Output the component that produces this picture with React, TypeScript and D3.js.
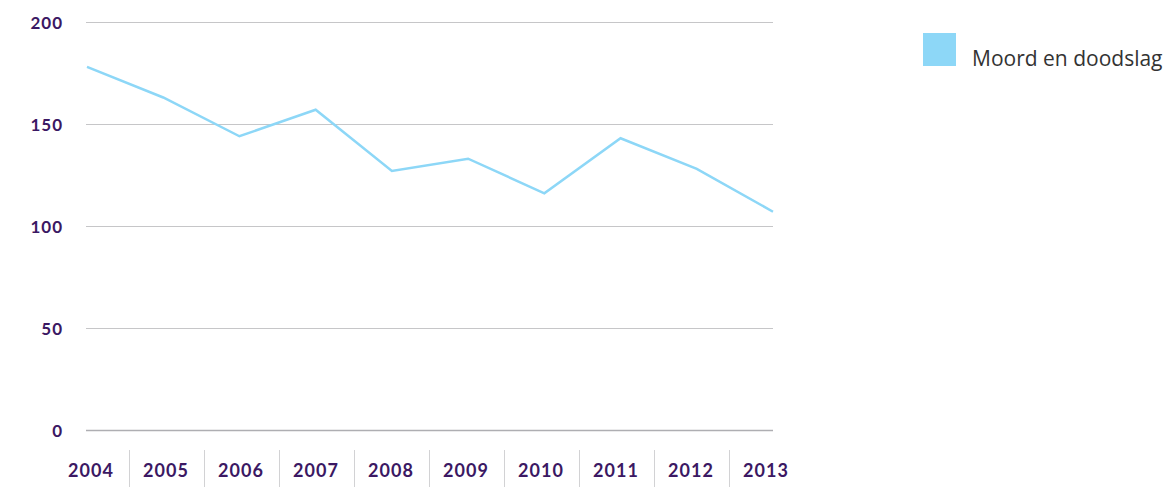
import React, { useEffect, useRef } from "react";
import * as d3 from "d3";

const years = ["2004", "2005", "2006", "2007", "2008", "2009", "2010", "2011", "2012", "2013"];
const moordValues = [178, 163, 144, 157, 127, 133, 116, 143, 128, 107];
const yTicks = [0, 50, 100, 150, 200];
const seriesName = "Moord en doodslag";

const W = 1166;
const H = 487;
const lineColor = "#8dd7f7";
const purple = "#3b1863";

const App = () => {
  const ref = useRef<SVGSVGElement>(null);

  useEffect(() => {
    const svg = d3.select(ref.current);
    svg.selectAll("*").remove();

    const y = d3.scaleLinear().domain([0, 200]).range([430, 22]);
    // line points sit on the gridline span
    const xLine = d3.scalePoint<string>().domain(years).range([87, 773]);
    // labels and separators live in bands below the axis
    const xBand = d3.scaleBand<string>().domain(years).range([53.5, 803.5]);

    // gridlines
    svg
      .append("g")
      .selectAll("line")
      .data(yTicks)
      .join("line")
      .attr("x1", 86)
      .attr("x2", 773)
      .attr("y1", (d) => Math.round(y(d)) + 0.5)
      .attr("y2", (d) => Math.round(y(d)) + 0.5)
      .attr("stroke", (d) => (d === 0 ? "#aeaeb2" : "#c6c6c8"))
      .attr("stroke-width", (d) => (d === 0 ? 1.5 : 1));

    // y labels
    svg
      .append("g")
      .attr("font-family", "Lato, 'Open Sans', sans-serif")
      .attr("font-weight", "bold")
      .attr("font-size", 17)
      .attr("letter-spacing", 1)
      .attr("fill", purple)
      .attr("text-anchor", "end")
      .selectAll("text")
      .data(yTicks)
      .join("text")
      .attr("x", 63)
      .attr("y", (d) => y(d) + 7)
      .text((d) => d);

    // band separators
    svg
      .append("g")
      .selectAll("line")
      .data(years.slice(1))
      .join("line")
      .attr("x1", (d) => Math.round(xBand(d)!) + 0.5)
      .attr("x2", (d) => Math.round(xBand(d)!) + 0.5)
      .attr("y1", 450)
      .attr("y2", H)
      .attr("stroke", "#d2d2d4")
      .attr("stroke-width", 1);

    // x labels
    svg
      .append("g")
      .attr("font-family", "Lato, 'Open Sans', sans-serif")
      .attr("font-weight", "bold")
      .attr("font-size", 18)
      .attr("letter-spacing", 1)
      .attr("fill", purple)
      .attr("text-anchor", "middle")
      .selectAll("text")
      .data(years)
      .join("text")
      .attr("x", (d) => xBand(d)! + xBand.bandwidth() / 2)
      .attr("y", 477)
      .text((d) => d);

    // the line
    const line = d3
      .line<number>()
      .x((_, i) => xLine(years[i])!)
      .y((d) => y(d));

    svg
      .append("path")
      .datum(moordValues)
      .attr("d", line)
      .attr("fill", "none")
      .attr("stroke", lineColor)
      .attr("stroke-width", 2.5)
      .attr("stroke-linejoin", "miter");

    // legend
    const legend = svg.append("g");
    legend
      .append("rect")
      .attr("x", 923)
      .attr("y", 33)
      .attr("width", 33)
      .attr("height", 33)
      .attr("fill", lineColor);
    legend
      .append("text")
      .attr("x", 972)
      .attr("y", 66)
      .attr("font-family", "'Open Sans', 'Noto Sans', sans-serif")
      .attr("font-size", 21)
      .attr("fill", "#333")
      .text(seriesName);
  }, []);

  return (
    <svg
      ref={ref}
      width={W}
      height={H}
      style={{ position: "absolute", left: 0, top: 0, background: "#fff" }}
    />
  );
};

export default App;
